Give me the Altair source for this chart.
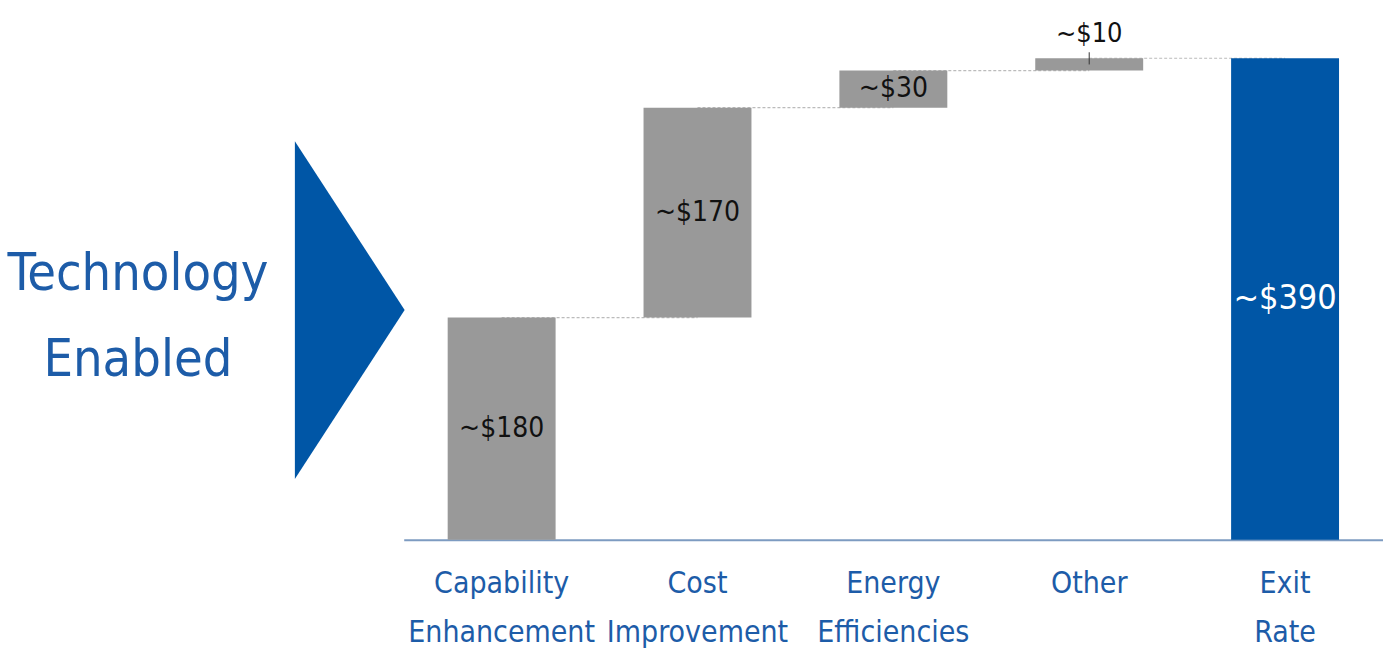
import altair as alt
import pandas as pd

categories = ["Capability Enhancement", "Cost Improvement", "Energy Efficiencies", "Other", "Exit Rate"]
values = [180, 170, 30, 10, 390]
labels = ["~$180", "~$170", "~$30", "~$10", "~$390"]
kinds = ["step", "step", "step", "step", "total"]

starts, ends = [], []
acc = 0
for v, k in zip(values, kinds):
    if k == "total":
        starts.append(0)
        ends.append(v)
    else:
        starts.append(acc)
        acc += v
        ends.append(acc)

df = pd.DataFrame({
    "cat": categories, "value": values, "label": labels, "kind": kinds,
    "start": starts, "end": ends,
})
df["mid"] = (df["start"] + df["end"]) / 2

conn = pd.DataFrame({
    "cat": categories[:-1], "next": categories[1:], "y": ends[:-1],
})

FONT = "'DejaVu Sans Condensed', 'Liberation Sans Narrow', 'Liberation Sans', sans-serif"
GRAY = "#999999"
BLUE = "#0056A6"
LBLUE = "#1D5CA8"

xscale = alt.Scale(domain=categories, paddingInner=0.449, paddingOuter=0.2245)
yscale = alt.Scale(domain=[0, 437], nice=False, zero=True)

xenc = alt.X("cat:N", scale=xscale, sort=categories, title=None,
             axis=alt.Axis(labelAngle=0, labelAlign="center", labelExpr="split(datum.label, ' ')",
                           labelFont=FONT, labelFontSize=30, labelColor=LBLUE,
                           labelLineHeight=49, labelPadding=44, ticks=False, labelLimit=400,
                           domainColor="#7D9BC1", domainWidth=2, grid=False))

connectors = alt.Chart(conn).mark_rule(color="#BBBBBB", strokeDash=[3, 2], strokeWidth=1.2).encode(
    x=alt.X("cat:N", scale=xscale, sort=categories),
    x2="next:N",
    y=alt.Y("y:Q", scale=yscale, axis=None),
)

bars = alt.Chart(df).mark_bar(size=108).encode(
    x=xenc,
    y=alt.Y("start:Q", scale=yscale, axis=None),
    y2="end:Q",
    color=alt.Color("kind:N", scale=alt.Scale(domain=["step", "total"], range=[GRAY, BLUE]), legend=None),
)

inner = alt.Chart(df).transform_filter("datum.kind == 'step' && datum.value >= 30").mark_text(
    font=FONT, fontSize=28, color="#111111", baseline="middle", align="center"
).encode(x=alt.X("cat:N", scale=xscale, sort=categories), y=alt.Y("mid:Q", scale=yscale), text="label:N")

total_lbl = alt.Chart(df).transform_filter("datum.kind == 'total'").mark_text(
    font=FONT, fontSize=34, color="white", baseline="middle", align="center"
).encode(x=alt.X("cat:N", scale=xscale, sort=categories), y=alt.Y("mid:Q", scale=yscale), text="label:N")

small = df[(df["kind"] == "step") & (df["value"] < 30)]
small_lbl = alt.Chart(small).mark_text(
    font=FONT, fontSize=27, color="#111111", baseline="bottom", align="center", dy=-10
).encode(x=alt.X("cat:N", scale=xscale, sort=categories), y=alt.Y("end:Q", scale=yscale), text="label:N")

small_tick = alt.Chart(small).mark_rule(color="#333333", strokeWidth=1, y2Offset=-6).encode(
    x=alt.X("cat:N", scale=xscale, sort=categories),
    y=alt.Y("mid:Q", scale=yscale), y2="end:Q",
)

deco = pd.DataFrame({"t": ["Technology\nEnabled"]})
title_txt = alt.Chart(deco).mark_text(
    font=FONT, fontSize=52, color=LBLUE, align="center", baseline="middle",
    lineBreak="\n", lineHeight=86,
).encode(x=alt.value(-266), y=alt.value(274), text="t:N")

tri = alt.Chart(deco).mark_point(
    shape="M-0.325,-1L0.325,0L-0.325,1Z", filled=True, opacity=1, color=BLUE, size=338 * 338, strokeWidth=0,
).encode(x=alt.value(-54), y=alt.value(310))

chart = alt.layer(connectors, bars, inner, total_lbl, small_tick, small_lbl, title_txt, tri).properties(
    width=980, height=540,
    padding={"left": 404, "top": 0, "right": 0, "bottom": 114},
    autosize=alt.AutoSizeParams(type="none"),
).configure(background="white").configure_view(strokeWidth=0, stroke=None)

chart.save("out.html", embed_options={"renderer": "svg", "actions": False})
